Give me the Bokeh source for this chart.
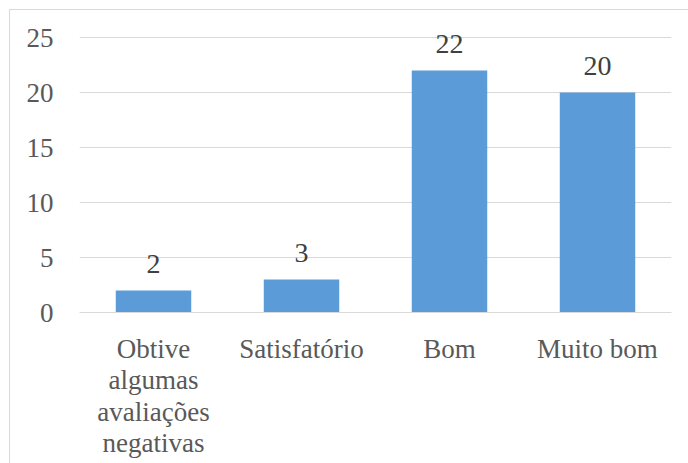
from bokeh.plotting import figure
from bokeh.models import ColumnDataSource, LabelSet, Range1d, FactorRange, FixedTicker
from bokeh.embed import file_html
from bokeh.resources import INLINE

categories = ["Obtive\nalgumas\navaliações\nnegativas", "Satisfatório", "Bom", "Muito bom"]
values = [2, 3, 22, 20]
labels = [str(v) for v in values]
y_ticks = [0, 5, 10, 15, 20, 25]

FONT = "Liberation Serif"
TXT = "#595959"

src = ColumnDataSource(dict(cat=categories, val=values, lab=labels))

p = figure(x_range=FactorRange(*categories, range_padding=0), y_range=Range1d(0, 27),
           width=679, height=454, output_backend="svg", toolbar_location=None,
           min_border_left=69, min_border_right=18, min_border_top=5, min_border_bottom=152)

p.vbar(x="cat", top="val", width=0.51, source=src, fill_color="#5b9bd7", line_color=None)

p.add_layout(LabelSet(x="cat", y="val", text="lab", source=src, text_align="center",
                      text_baseline="alphabetic", y_offset=18, text_font=FONT,
                      text_font_size="28px", text_color="#404040"))

p.yaxis.ticker = FixedTicker(ticks=y_ticks)
p.yaxis.axis_line_color = None
p.yaxis.major_tick_line_color = None
p.yaxis.minor_tick_line_color = None
p.yaxis.major_label_text_font = FONT
p.yaxis.major_label_text_font_size = "27px"
p.yaxis.major_label_text_color = TXT
p.yaxis.major_label_standoff = 20

p.xaxis.axis_line_color = "#d9d9d9"
p.xaxis.major_tick_line_color = None
p.xaxis.minor_tick_line_color = None
p.xaxis.major_label_text_font = FONT
p.xaxis.major_label_text_font_size = "27px"
p.xaxis.major_label_text_color = TXT
p.xaxis.major_label_standoff = 15
p.xaxis.major_label_text_line_height = 1.05

p.xgrid.grid_line_color = None
p.ygrid.grid_line_color = "#d9d9d9"
p.ygrid.grid_line_width = 1
p.outline_line_color = None
p.styles = {"border-left": "1px solid #d9d9d9", "border-top": "1px solid #d9d9d9",
            "margin-left": "9px", "margin-top": "9px"}

open("out.html", "w").write(file_html(p, INLINE))
